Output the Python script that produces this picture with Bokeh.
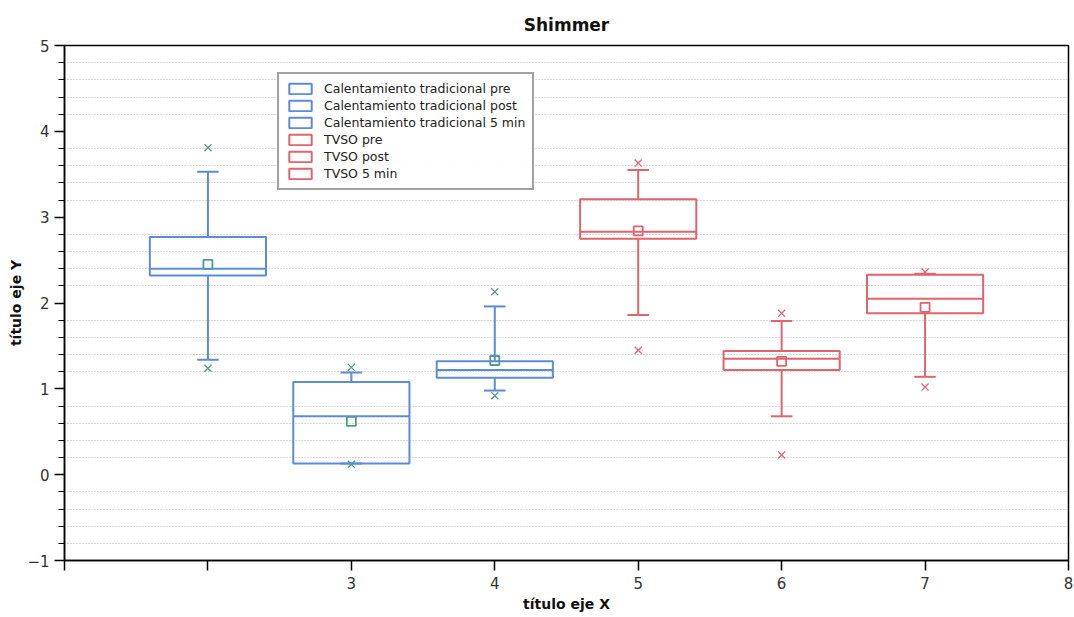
from bokeh.plotting import figure
from bokeh.models import FixedTicker, Legend, LegendItem, Range1d
from bokeh.embed import file_html
from bokeh.resources import INLINE

# ---- data ----
title_text = "Shimmer"
groups = ["Calentamiento tradicional pre", "Calentamiento tradicional post",
          "Calentamiento tradicional 5 min", "TVSO pre", "TVSO post", "TVSO 5 min"]
positions = [2, 3, 4, 5, 6, 7]
q1 = [2.32, 0.13, 1.13, 2.75, 1.22, 1.88]
medians = [2.40, 0.68, 1.22, 2.83, 1.35, 2.05]
q3 = [2.77, 1.08, 1.32, 3.21, 1.44, 2.33]
whisk_lo = [1.34, 0.13, 0.98, 1.86, 0.68, 1.14]
whisk_hi = [3.53, 1.19, 1.96, 3.55, 1.79, 2.34]
means = [2.45, 0.62, 1.33, 2.84, 1.32, 1.95]
out_hi = [3.81, 1.25, 2.13, 3.63, 1.88, 2.36]
out_lo = [1.24, 0.12, 0.92, 1.45, 0.23, 1.02]
x_ticks = [1, 2, 3, 4, 5, 6, 7, 8]
y_ticks = [-1, 0, 1, 2, 3, 4, 5]

BLUE = "#5b8bd9"
RED = "#e0646c"
TEAL = "#4f9a96"
line_colors = [BLUE, BLUE, BLUE, RED, RED, RED]
mark_colors = [TEAL, TEAL, TEAL, RED, RED, RED]

BOX_W = 0.81
CAP_W = 0.15

p = figure(width=1074, height=617, output_backend="svg", toolbar_location=None,
           x_range=Range1d(1, 8), y_range=Range1d(-1, 5),
           min_border_left=64, min_border_right=6, min_border_top=45, min_border_bottom=57,
           title=title_text)
p.title.align = "center"
p.title.text_font = "DejaVu Sans"
p.title.text_font_size = "17px"
p.title.text_font_style = "bold"
p.title.text_color = "#111111"
p.title.offset = 0
p.title.standoff = 22
p.outline_line_color = "black"
p.outline_line_width = 1.5

# axes
p.xaxis.ticker = FixedTicker(ticks=x_ticks, minor_ticks=[])
p.xaxis.major_label_overrides = {1: "", 2: ""}
minor = [round(t + k * 0.2, 1) for t in y_ticks[:-1] for k in range(1, 5)]
p.yaxis.ticker = FixedTicker(ticks=y_ticks, minor_ticks=minor)
for ax in (p.xaxis[0], p.yaxis[0]):
    ax.axis_line_color = "black"
    ax.axis_line_width = 1.5
    ax.major_tick_line_color = "black"
    ax.major_tick_line_width = 1.5
    ax.minor_tick_line_color = "black"
    ax.major_tick_in = 0
    ax.minor_tick_in = 0
    ax.major_label_text_font = "DejaVu Sans"
    ax.major_label_text_font_size = "15px"
    ax.major_label_text_color = "#333333"
    ax.axis_label_text_font = "DejaVu Sans"
    ax.axis_label_text_font_size = "14px"
    ax.axis_label_text_font_style = "bold"
    ax.axis_label_text_color = "#111111"
p.xaxis.major_tick_out = 10
p.yaxis.major_tick_out = 10
p.yaxis.minor_tick_out = 6
p.xaxis.major_label_standoff = 6
p.yaxis.major_label_standoff = 5
p.xaxis.axis_label = "título eje X"
p.yaxis.axis_label = "título eje Y"
p.xaxis.axis_label_standoff = 4
p.yaxis.axis_label_standoff = 0

p.xgrid.grid_line_color = None
p.ygrid.grid_line_color = None
p.ygrid.minor_grid_line_color = "#b5b5b5"
p.ygrid.minor_grid_line_dash = "1 2"
p.ygrid.minor_grid_line_width = 1

items = []
for i, x in enumerate(positions):
    lc = line_colors[i]
    mc = mark_colors[i]
    box = p.quad(left=[x - BOX_W / 2], right=[x + BOX_W / 2], bottom=[q1[i]], top=[q3[i]],
                 fill_alpha=0, line_color=lc, line_width=2)
    p.segment(x0=[x - BOX_W / 2], x1=[x + BOX_W / 2], y0=[medians[i]], y1=[medians[i]],
              line_color=lc, line_width=2)
    p.segment(x0=[x, x], x1=[x, x], y0=[q3[i], q1[i]], y1=[whisk_hi[i], whisk_lo[i]],
              line_color=lc, line_width=2)
    p.segment(x0=[x - CAP_W / 2, x - CAP_W / 2], x1=[x + CAP_W / 2, x + CAP_W / 2],
              y0=[whisk_hi[i], whisk_lo[i]], y1=[whisk_hi[i], whisk_lo[i]],
              line_color=lc, line_width=2)
    p.scatter(x=[x], y=[means[i]], marker="square", size=9, fill_color="white",
              fill_alpha=0, line_color=mc, line_width=1.8)
    p.scatter(x=[x, x], y=[out_hi[i], out_lo[i]], marker="x", size=10,
              line_color=mc, line_width=1.3)
    items.append(LegendItem(label=groups[i], renderers=[box]))

legend = Legend(items=items, location=(213, 370))
legend.label_text_font = "DejaVu Sans"
legend.label_text_font_size = "12.5px"
legend.label_text_color = "#222222"
legend.label_height = 15
legend.glyph_height = 13
legend.glyph_width = 28
legend.spacing = 2
legend.padding = 7
legend.margin = 0
legend.border_line_color = "#444444"
legend.border_line_width = 2
legend.background_fill_color = "white"
legend.label_standoff = 10
p.add_layout(legend, "center")

open("out.html", "w").write(file_html(p, INLINE))
